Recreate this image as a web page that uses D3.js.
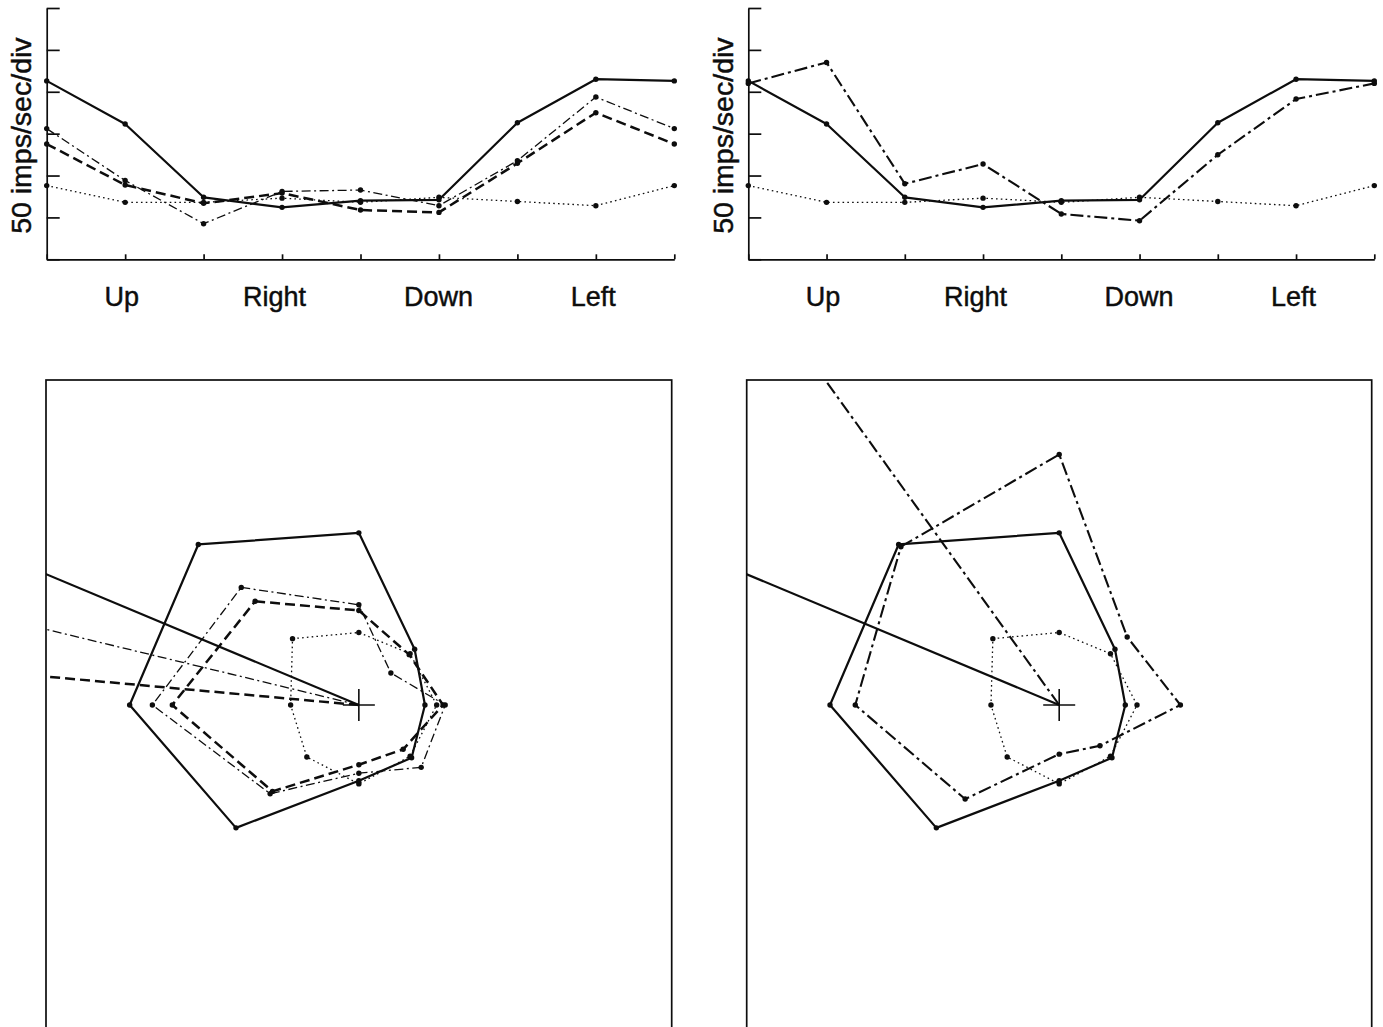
<!DOCTYPE html>
<html>
<head>
<meta charset="utf-8">
<script src="https://cdn.jsdelivr.net/npm/d3@7"></script>
<style>
  body { margin: 0; background: #fff; }
  svg { display: block; font-family: "Liberation Sans", Arial, Helvetica, sans-serif; }
</style>
</head>
<body>
<svg id="chart" width="1383" height="1027"></svg>
<script>
// Eight movement directions, starting at upper-left and going clockwise.
// The tuning curve wraps back round to the first direction at the right end.
const directions = ["Up-Left", "Up", "Up-Right", "Right", "Down-Right", "Down", "Down-Left", "Left"];
const directionAngles = [135, 90, 45, 0, -45, -90, -135, 180]; // degrees, counter-clockwise from right
const tickLabels = ["", "Up", "", "Right", "", "Down", "", "Left", ""];
const yTicks = [0, 50, 100, 150, 200, 250, 300];
const yLabel = "50 imps/sec/div";

// Firing rates (imps/sec) for each direction.
const controlSolid  = [213, 161.5, 74, 62, 70, 71, 163, 215];
const controlDotted = [88, 68, 68, 73, 68, 74, 69, 64];
const leftDashDot   = [156, 94, 42.5, 81, 82.7, 64, 117.7, 193.7];
const leftDashed    = [137.6, 88.7, 66.8, 79, 58.8, 56, 114.6, 175];
const rightDashDot  = [210, 235, 90.2, 113.7, 54.1, 46.1, 124.8, 191.3];

// Population vectors: direction (degrees, counter-clockwise from right) and length (imps/sec).
const leftVectorAngles  = [157.3, 166.4, 174.8];
const rightVectorAngles = [157.3, 125.75];
const vectorLength = 420;

// Line styles
const styles = {
  solid:        { width: 2.2, dash: null },
  dotted:       { width: 1.3, dash: "1.6,3.2" },
  dashDotThin:  { width: 1.3, dash: "9,3.5,2,3.5" },
  dashed:       { width: 2.5, dash: "10,5" },
  dashDotThick: { width: 2.1, dash: "13,4,3,4" }
};

const panels = [
  {
    axisX: [46.7, 674.3],
    box: { x: 46, w: 625.7 },
    series: [
      { values: controlDotted, style: "dotted" },
      { values: leftDashed,    style: "dashed" },
      { values: leftDashDot,   style: "dashDotThin" },
      { values: controlSolid,  style: "solid" }
    ],
    vectors: [
      { angle: leftVectorAngles[0], style: "solid" },
      { angle: leftVectorAngles[1], style: "dashDotThin" },
      { angle: leftVectorAngles[2], style: "dashed" }
    ]
  },
  {
    axisX: [748.3, 1374.3],
    box: { x: 746.7, w: 625 },
    series: [
      { values: controlDotted, style: "dotted" },
      { values: rightDashDot,  style: "dashDotThick" },
      { values: controlSolid,  style: "solid" }
    ],
    vectors: [
      { angle: rightVectorAngles[0], style: "solid" },
      { angle: rightVectorAngles[1], style: "dashDotThick" }
    ]
  }
];

const svg = d3.select("#chart");
svg.append("rect").attr("width", 1383).attr("height", 1027).attr("fill", "#fff");

const ink = "#0d0d0d";
const y = d3.scaleLinear().domain([0, 300]).range([259.3, 8]);
const r = d3.scaleLinear().domain([0, 50]).range([0, 53.3]);
const boxTop = 380, polarCY = 705;
const toRad = a => (90 - a) * Math.PI / 180; // d3 radial angles run clockwise from 12 o'clock
const labelShift = { Up: -4, Right: -8, Down: -1, Left: -3 };

function applyStyle(sel, name) {
  const s = styles[name];
  sel.attr("fill", "none").attr("stroke", ink)
     .attr("stroke-width", s.width)
     .attr("stroke-linejoin", "round")
     .attr("stroke-dasharray", s.dash);
}

panels.forEach((p, pi) => {
  // ---------- tuning curve ----------
  const x = d3.scalePoint().domain(d3.range(9)).range(p.axisX);
  const top = svg.append("g");

  const yAxis = d3.axisLeft(y).tickValues(yTicks).tickSize(-13).tickSizeOuter(0).tickFormat("");
  top.append("g").attr("transform", `translate(${p.axisX[0]},0)`).call(yAxis)
    .call(g => g.selectAll("path,line").attr("stroke", ink).attr("stroke-width", 1.7));

  const xAxis = d3.axisBottom(x).tickSize(-5).tickSizeOuter(0).tickPadding(27.5)
    .tickFormat(i => tickLabels[i]);
  top.append("g").attr("transform", `translate(0,${y(0)})`).call(xAxis)
    .call(g => g.selectAll("path,line").attr("stroke", ink).attr("stroke-width", 1.7))
    .call(g => g.selectAll("text").attr("font-size", 27).attr("fill", ink)
      .attr("stroke", ink).attr("stroke-width", 0.45)
      .attr("font-family", "'Liberation Sans', Arial, Helvetica, sans-serif")
      .attr("dx", i => labelShift[tickLabels[i]] || 0));

  top.append("text")
    .attr("transform", `translate(${p.axisX[0] - 15.5},${(y(0) + y(300)) / 2 + 2}) rotate(-90)`)
    .attr("text-anchor", "middle").attr("font-size", 28.5).attr("fill", ink)
    .attr("stroke", ink).attr("stroke-width", 0.45)
    .text(yLabel);

  const line = d3.line().x((d, i) => x(i)).y(d => y(d));
  p.series.forEach(s => {
    const wrapped = s.values.concat([s.values[0]]);
    top.append("path").datum(wrapped).attr("d", line).call(applyStyle, s.style);
    top.append("g").selectAll("circle").data(wrapped).join("circle")
      .attr("cx", (d, i) => x(i)).attr("cy", d => y(d)).attr("r", 2.7).attr("fill", ink);
  });

  // ---------- polar plot ----------
  const cx = p.box.x + p.box.w / 2;
  const clipId = "clip" + pi;
  svg.append("clipPath").attr("id", clipId)
    .append("rect").attr("x", p.box.x).attr("y", boxTop).attr("width", p.box.w).attr("height", 700);

  const polar = svg.append("g").attr("clip-path", `url(#${clipId})`);
  const g = polar.append("g").attr("transform", `translate(${cx},${polarCY})`);

  const radial = d3.lineRadial()
    .angle((d, i) => toRad(directionAngles[i]))
    .radius(d => r(d))
    .curve(d3.curveLinearClosed);

  p.series.forEach(s => {
    g.append("path").datum(s.values).attr("d", radial).call(applyStyle, s.style);
    g.append("g").selectAll("circle").data(s.values).join("circle")
      .each(function (d, i) {
        const [px, py] = d3.pointRadial(toRad(directionAngles[i]), r(d));
        d3.select(this).attr("cx", px).attr("cy", py);
      })
      .attr("r", 2.7).attr("fill", ink);
  });

  const vecLine = d3.lineRadial().angle(d => d[0]).radius(d => r(d[1]));
  p.vectors.forEach(v => {
    const a = toRad(v.angle);
    g.append("path").datum([[a, 0], [a, vectorLength]]).attr("d", vecLine).call(applyStyle, v.style);
  });

  // centre cross
  g.append("line").attr("x1", -16).attr("x2", 16).attr("stroke", ink).attr("stroke-width", 1.6);
  g.append("line").attr("y1", -16).attr("y2", 16).attr("stroke", ink).attr("stroke-width", 1.6);

  // frame
  svg.append("rect").attr("x", p.box.x).attr("y", boxTop).attr("width", p.box.w).attr("height", 700)
    .attr("fill", "none").attr("stroke", ink).attr("stroke-width", 1.7);
});
</script>
</body>
</html>
